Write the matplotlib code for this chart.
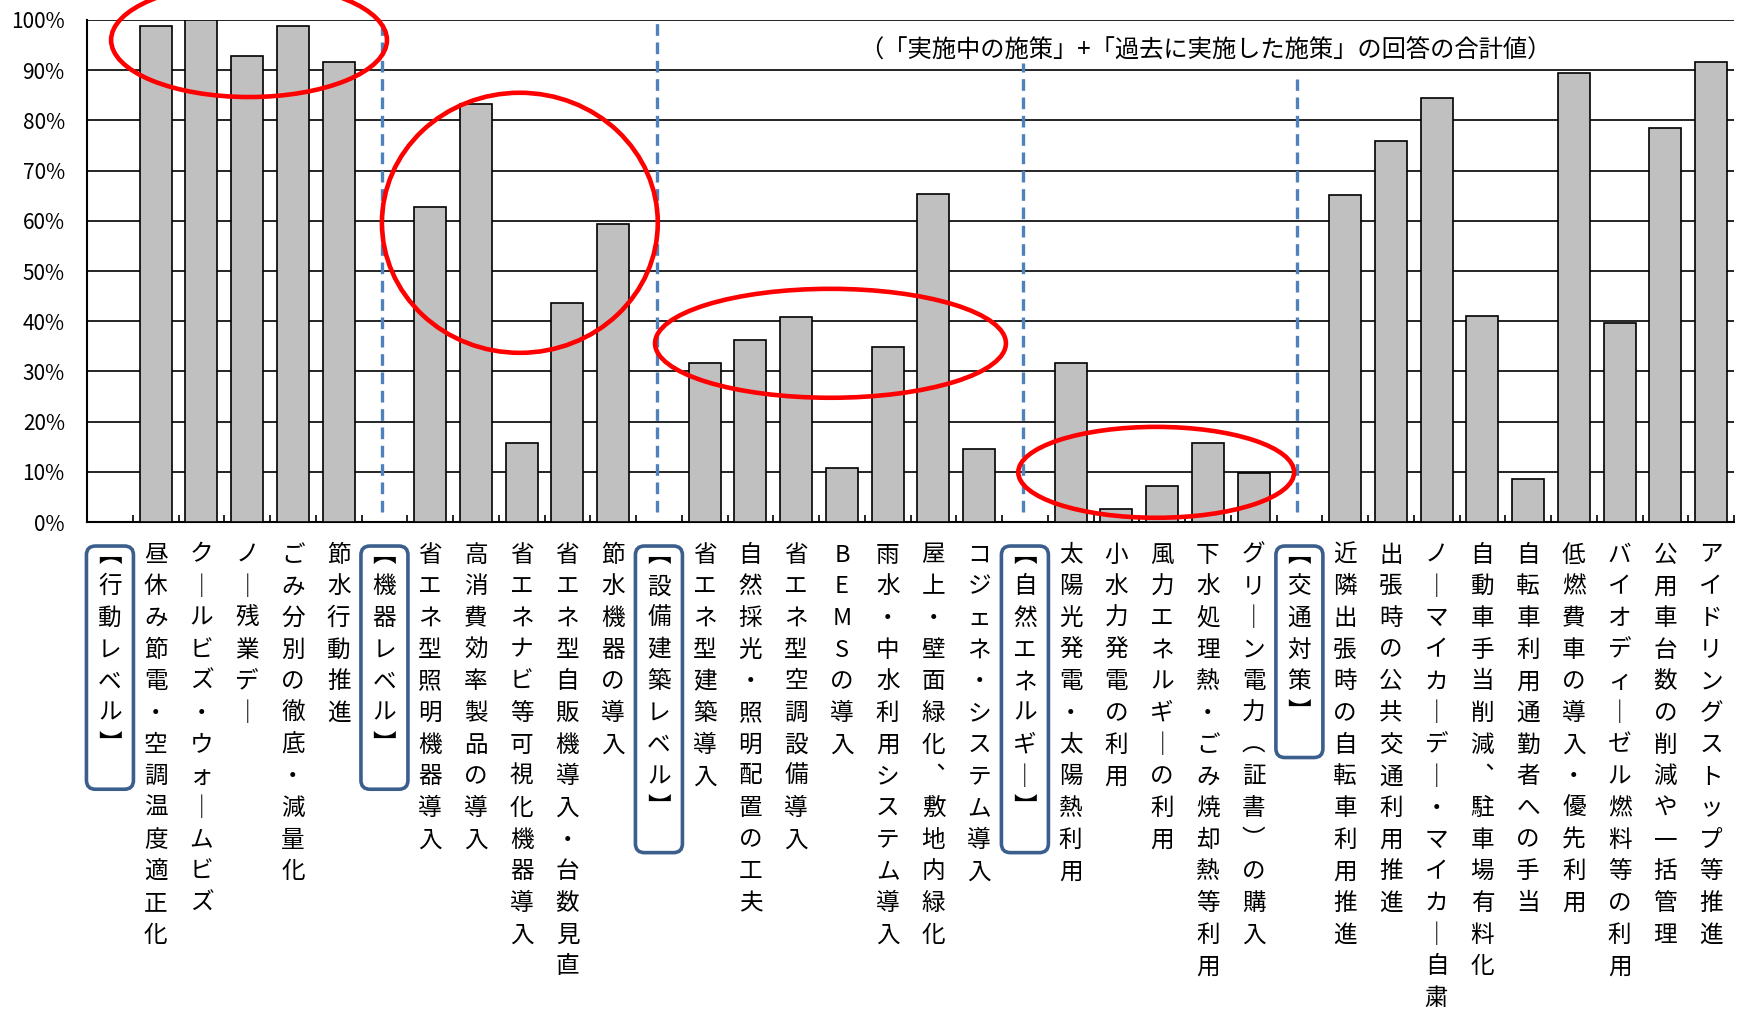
import numpy as np
import matplotlib
matplotlib.use("Agg")
import matplotlib.pyplot as plt
from matplotlib.patches import Ellipse, FancyBboxPatch
from matplotlib import transforms

plt.rcParams['font.family'] = ['Noto Sans CJK JP', 'DejaVu Sans']

# 区分見出し
groups = ["【行動レベル】", "【機器レベル】", "【設備建築レベル】", "【自然エネルギー】", "【交通対策】"]

# 施策名と値（%）
items_kodo = ["昼休み節電・空調温度適正化", "クールビズ・ウォームビズ", "ノー残業デー",
              "ごみ分別の徹底・減量化", "節水行動推進"]
vals_kodo = [98.8, 100.0, 92.9, 98.8, 91.6]

items_kiki = ["省エネ型照明機器導入", "高消費効率製品の導入", "省エネナビ等可視化機器導入",
              "省エネ型自販機導入・台数見直", "節水機器の導入"]
vals_kiki = [62.7, 83.3, 15.8, 43.6, 59.4]

items_setsubi = ["省エネ型建築導入", "自然採光・照明配置の工夫", "省エネ型空調設備導入",
                 "BEMSの導入", "雨水・中水利用システム導入", "屋上・壁面緑化、敷地内緑化",
                 "コジェネ・システム導入"]
vals_setsubi = [31.6, 36.2, 40.9, 10.7, 34.9, 65.3, 14.5]

items_shizen = ["太陽光発電・太陽熱利用", "小水力発電の利用", "風力エネルギーの利用",
                "下水処理熱・ごみ焼却熱等利用", "グリーン電力（証書）の購入"]
vals_shizen = [31.7, 2.6, 7.2, 15.8, 9.7]

items_kotsu = ["近隣出張時の自転車利用推進", "出張時の公共交通利用推進",
               "ノーマイカーデー・マイカー自粛", "自動車手当削減、駐車場有料化",
               "自転車利用通勤者への手当", "低燃費車の導入・優先利用",
               "バイオディーゼル燃料等の利用", "公用車台数の削減や一括管理",
               "アイドリングストップ等推進"]
vals_kotsu = [65.2, 75.9, 84.4, 41.0, 8.6, 89.5, 39.7, 78.4, 91.6]

note = "（「実施中の施策」+「過去に実施した施策」の回答の合計値）"

# 並びを作る（見出しの位置は値なし）
all_items = [items_kodo, items_kiki, items_setsubi, items_shizen, items_kotsu]
all_vals = [vals_kodo, vals_kiki, vals_setsubi, vals_shizen, vals_kotsu]
labels, values, header_pos = [], [], []
for g, its, vs in zip(groups, all_items, all_vals):
    header_pos.append(len(labels))
    labels.append(g)
    values.append(np.nan)
    labels += its
    values += vs
x = np.arange(len(labels))
values = np.array(values)

# 縦書き用の字形
vert = {'ー': '｜', '、': '︑', '（': '︵', '）': '︶', '【': '︻', '】': '︼'}

fig = plt.figure(figsize=(17.38, 10.24), dpi=100)
ax = fig.add_axes([0.0501, 0.4902, 0.9476, 0.4903])

ax.bar(x, np.nan_to_num(values), width=0.7, color='#C0C0C0', edgecolor='black',
       linewidth=1.2, zorder=3)

ax.set_xlim(-0.5, len(labels) - 0.5)
ax.set_ylim(0, 100)
ax.set_yticks(np.arange(0, 101, 10))
ax.set_yticklabels([f"{v}%" for v in range(0, 101, 10)], fontsize=15)
ax.yaxis.grid(True, color='black', linewidth=1.2)
ax.set_axisbelow(True)
ax.tick_params(axis='y', length=0, pad=16)
ax.set_xticks(np.arange(-0.5, len(labels), 1))
ax.set_xticklabels([])
ax.tick_params(axis='x', direction='in', length=5, width=1.2)
for s in ['top', 'right']:
    ax.spines[s].set_visible(False)
for s in ['left', 'bottom']:
    ax.spines[s].set_linewidth(1.5)

# 区分の破線
dash_top = [100, 100, 91.4, 88.2]
for hp, yt in zip(header_pos[1:], dash_top):
    ax.plot([hp - 0.05, hp - 0.05], [2, yt], color='#4F81BD', linewidth=2.4,
            linestyle=(0, (3.5, 2)), zorder=4)

# 縦書きラベル
first = 23.8
pitch = 22.8
for i, lab in enumerate(labels):
    for j, ch in enumerate(lab):
        ax.annotate(vert.get(ch, ch), xy=(i, 0), xycoords=('data', 'axes fraction'),
                    xytext=(0, -(first + j * pitch)), textcoords='offset points',
                    ha='center', va='center', fontsize=17, annotation_clip=False)

# 見出しの枠
for hp in header_pos:
    n = len(labels[hp])
    px, py = ax.transData.transform((hp, 0))
    top = py - 24
    bottom = py - (33 + (n - 1) * 31.7 + 44)
    box = FancyBboxPatch((px - 23.5, bottom), 47, top - bottom,
                         boxstyle="round,pad=0,rounding_size=9",
                         transform=transforms.IdentityTransform(),
                         fill=False, edgecolor='#3B5E8C', linewidth=2.6,
                         clip_on=False)
    fig.patches.append(box)

# 赤い楕円
ellipses = [(3.04, 96.0, 6.03, 22.7), (8.96, 59.6, 6.03, 51.8),
            (15.75, 35.6, 7.67, 21.7), (22.87, 9.9, 6.03, 18.1)]
for cx, cy, w, h in ellipses:
    ax.add_patch(Ellipse((cx, cy), w, h, fill=False, edgecolor='red',
                         linewidth=3.3, zorder=6, clip_on=False))

ax.text(23.94, 94, note, ha='center', va='center', fontsize=17.5, zorder=5)

fig.savefig("out.png", dpi=100)
